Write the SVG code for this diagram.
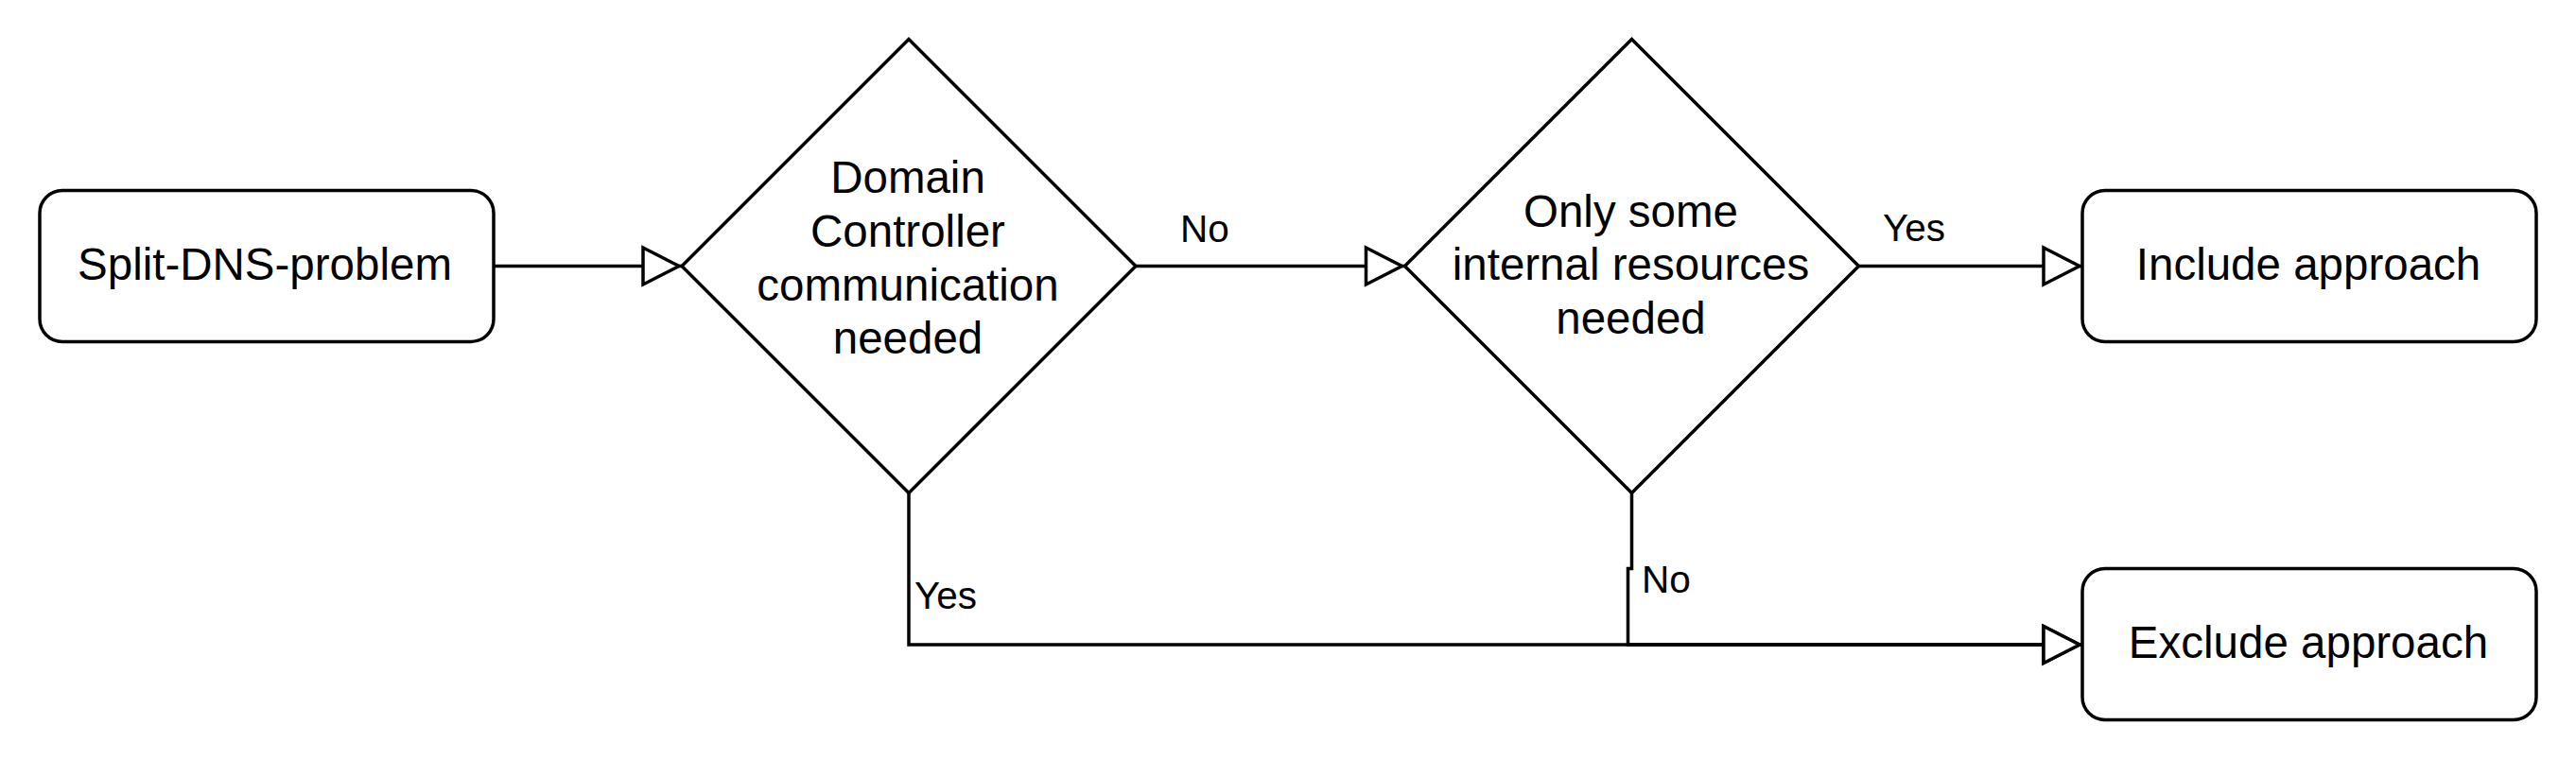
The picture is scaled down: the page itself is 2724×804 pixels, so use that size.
<svg xmlns="http://www.w3.org/2000/svg" width="2724" height="804" viewBox="0 0 2724 804">
  <style>
    .shape { fill: #ffffff; stroke: #000000; stroke-width: 3.5; }
    .edge { fill: none; stroke: #000000; stroke-width: 3.5; }
    .t { font-family: "Liberation Sans", Arial, sans-serif; font-size: 47.5px; fill: #000000; text-anchor: middle; }
    .lbl { font-family: "Liberation Sans", Arial, sans-serif; font-size: 40.5px; fill: #000000; }
  </style>
  <defs>
    <marker id="arr" markerUnits="userSpaceOnUse" viewBox="-5 -25 55 50" markerWidth="55" markerHeight="50" refX="41" refY="0" orient="auto" overflow="visible">
      <path d="M0,-19.5 L38,0 L0,19.5 Z" fill="#ffffff" stroke="#000000" stroke-width="3.5"/>
    </marker>
  </defs>
  <rect width="2724" height="804" fill="#ffffff"/>

  <g id="connectors">
    <path class="edge" d="M522,281.5 L721,281.5" marker-end="url(#arr)"/>
    <path class="edge" d="M1201,281.5 L1485.5,281.5" marker-end="url(#arr)"/>
    <path class="edge" d="M1965.5,281.5 L2202,281.5" marker-end="url(#arr)"/>
    <path class="edge" d="M961,521.5 L961,682 L2202,682" marker-end="url(#arr)"/>
    <path class="edge" d="M1725.5,521.5 L1725.5,601.5 L1721.5,601.5 L1721.5,682 L2202,682" marker-end="url(#arr)"/>
    <text class="lbl" x="1248" y="256">No</text>
    <text class="lbl" x="1991" y="255">Yes</text>
    <text class="lbl" x="967" y="644">Yes</text>
    <text class="lbl" x="1736" y="627">No</text>
  </g>

  <g id="split-dns-problem">
    <rect class="shape" x="42" y="201.5" width="480" height="160" rx="24" ry="24"/>
    <text class="t" x="280" y="296">Split-DNS-problem</text>
  </g>

  <g id="dc-communication">
    <polygon class="shape" points="961,41.5 1201,281.5 961,521.5 721,281.5"/>
    <text class="t" x="960" y="204">Domain</text>
    <text class="t" x="960" y="260.5">Controller</text>
    <text class="t" x="960" y="317.5">communication</text>
    <text class="t" x="960" y="374">needed</text>
  </g>

  <g id="internal-resources">
    <polygon class="shape" points="1725.5,41.5 1965.5,281.5 1725.5,521.5 1485.5,281.5"/>
    <text class="t" x="1724.5" y="239.5">Only some</text>
    <text class="t" x="1724.5" y="296">internal resources</text>
    <text class="t" x="1724.5" y="353">needed</text>
  </g>

  <g id="include-approach">
    <rect class="shape" x="2202" y="201.5" width="480" height="160" rx="24" ry="24"/>
    <text class="t" x="2441" y="296">Include approach</text>
  </g>

  <g id="exclude-approach">
    <rect class="shape" x="2202" y="601.5" width="480" height="160" rx="24" ry="24"/>
    <text class="t" x="2441" y="696">Exclude approach</text>
  </g>
</svg>
